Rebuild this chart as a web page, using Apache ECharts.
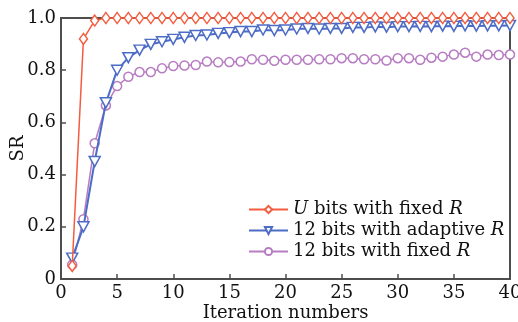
<!DOCTYPE html>
<html>
<head>
<meta charset="utf-8">
<script src="https://cdn.jsdelivr.net/npm/echarts@6/dist/echarts.min.js"></script>
<style>
  html, body { margin: 0; padding: 0; background: #fff; }
  #chart { width: 518px; height: 322px; }
</style>
</head>
<body>
<div id="chart"></div>
<script>
// 迭代次数
var iterations = [1, 2, 3, 4, 5, 6, 7, 8, 9, 10, 11, 12, 13, 14, 15, 16, 17, 18, 19, 20,
                  21, 22, 23, 24, 25, 26, 27, 28, 29, 30, 31, 32, 33, 34, 35, 36, 37, 38, 39, 40];
// U bits with fixed R
var uBitsFixed = [0.05, 0.92, 0.99, 1, 1, 1, 1, 1, 1, 1, 1, 1, 1, 1, 1, 1, 1, 1, 1, 1,
                  1, 1, 1, 1, 1, 1, 1, 1, 1, 1, 1, 1, 1, 1, 1, 1, 1, 1, 1, 1];
// 12 bits with adaptive R
var bits12Adaptive = [0.08, 0.20, 0.45, 0.675, 0.80, 0.848, 0.877, 0.899, 0.909, 0.918,
                      0.926, 0.933, 0.935, 0.941, 0.944, 0.948, 0.948, 0.954, 0.952, 0.954,
                      0.958, 0.96, 0.958, 0.96, 0.96, 0.964, 0.964, 0.966, 0.965, 0.967,
                      0.967, 0.968, 0.967, 0.969, 0.968, 0.97, 0.969, 0.97, 0.97, 0.971];
// 12 bits with fixed R
var bits12Fixed = [0.055, 0.229, 0.52, 0.665, 0.739, 0.775, 0.793, 0.793, 0.807, 0.816,
                   0.818, 0.82, 0.833, 0.83, 0.831, 0.833, 0.842, 0.84, 0.836, 0.84,
                   0.84, 0.84, 0.842, 0.842, 0.846, 0.846, 0.842, 0.842, 0.837, 0.846,
                   0.846, 0.84, 0.848, 0.852, 0.86, 0.867, 0.852, 0.86, 0.858, 0.86];
var seriesNames = ['U bits with fixed R', '12 bits with adaptive R', '12 bits with fixed R'];

var FONT = '"DejaVu Serif", "Liberation Serif", serif';
var FS = 18;
var AXIS_COLOR = '#4d4d4d';

function pairs(ys) {
    return iterations.map(function (x, i) { return [x, ys[i]]; });
}

var chart = echarts.init(document.getElementById('chart'));

var option = {
    animation: false,
    grid: {
        left: 61, right: 8, top: 18, bottom: 43,
        outerBoundsMode: 'none',
        show: true,
        borderColor: AXIS_COLOR,
        borderWidth: 2,
        backgroundColor: 'transparent'
    },
    legend: {
        orient: 'vertical',
        left: 243,
        top: 195,
        itemWidth: 39,
        itemHeight: 9,
        itemGap: 2,
        data: seriesNames,
        formatter: function (name) {
            return name.replace(/\bU\b/, '{i|U}').replace(/R$/, '{i|R}');
        },
        textStyle: {
            fontFamily: FONT,
            fontSize: FS,
            lineHeight: 19,
            color: '#111',
            rich: {
                i: { fontFamily: FONT, fontSize: FS, lineHeight: 19, fontStyle: 'italic', color: '#111' }
            }
        }
    },
    xAxis: {
        type: 'value',
        min: 0,
        max: 40,
        interval: 5,
        name: 'Iteration numbers',
        nameLocation: 'middle',
        nameMoveOverlap: false,
        nameGap: 25,
        nameTextStyle: { fontFamily: FONT, fontSize: FS, color: '#111' },
        axisLine: { lineStyle: { color: AXIS_COLOR, width: 2 } },
        axisTick: { inside: true, length: 5, lineStyle: { color: AXIS_COLOR, width: 1.5 } },
        axisLabel: { fontFamily: FONT, fontSize: FS, color: '#111', margin: 5 },
        splitLine: { show: false }
    },
    yAxis: {
        type: 'value',
        min: 0,
        max: 1,
        interval: 0.2,
        name: 'SR',
        nameLocation: 'middle',
        nameMoveOverlap: false,
        nameGap: 34,
        nameTextStyle: { fontFamily: FONT, fontSize: FS, color: '#111' },
        axisLine: { lineStyle: { color: AXIS_COLOR, width: 2 } },
        axisTick: { inside: true, length: 5, lineStyle: { color: AXIS_COLOR, width: 1.5 } },
        axisLabel: {
            fontFamily: FONT, fontSize: FS, color: '#111', margin: 5,
            formatter: function (v) { return v === 0 ? '0' : v.toFixed(1); }
        },
        splitLine: { show: false }
    },
    series: [
        {
            name: seriesNames[2],
            type: 'line',
            data: pairs(bits12Fixed),
            symbol: 'circle',
            symbolSize: 9,
            clip: false,
            lineStyle: { color: '#b77cc2', width: 1.5 },
            itemStyle: { color: '#fff', borderColor: '#b77cc2', borderWidth: 1.5 },
            z: 2
        },
        {
            name: seriesNames[1],
            type: 'line',
            data: pairs(bits12Adaptive),
            symbol: 'triangle',
            symbolRotate: 180,
            symbolSize: [11, 10],
            clip: false,
            lineStyle: { color: '#4c6cc6', width: 2 },
            itemStyle: { color: '#fff', borderColor: '#4c6cc6', borderWidth: 1.5 },
            z: 3
        },
        {
            name: seriesNames[0],
            type: 'line',
            data: pairs(uBitsFixed),
            symbol: 'diamond',
            symbolSize: [8, 11],
            clip: false,
            lineStyle: { color: '#f45c3f', width: 1.5 },
            itemStyle: { color: '#fff', borderColor: '#f45c3f', borderWidth: 1.5 },
            z: 4
        }
    ]
};

chart.setOption(option);
</script>
</body>
</html>
